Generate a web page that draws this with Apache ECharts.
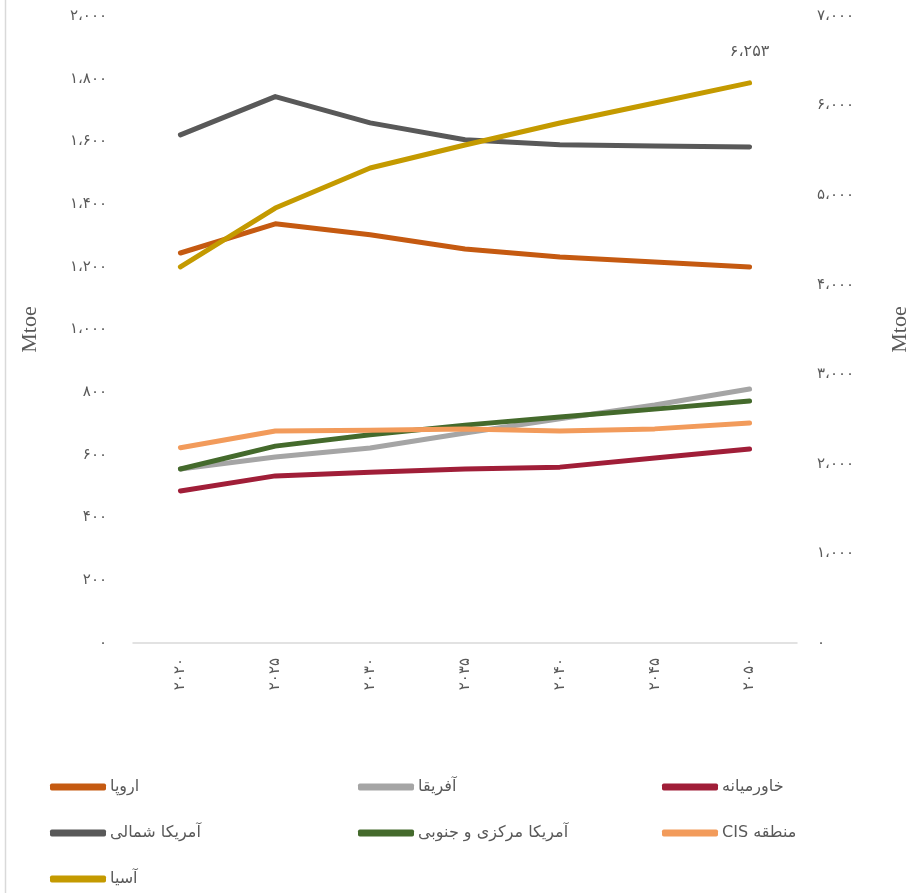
<!DOCTYPE html>
<html>
<head>
<meta charset="utf-8">
<script src="https://cdn.jsdelivr.net/npm/echarts@6/dist/echarts.min.js"></script>
<style>html,body{margin:0;padding:0;background:#fff}#c{width:919px;height:893px}</style>
</head>
<body>
<div id="c"></div>
<script>
const categories = ['۲۰۲۰','۲۰۲۵','۲۰۳۰','۲۰۳۵','۲۰۴۰','۲۰۴۵','۲۰۵۰'];
const europe = [1244, 1337, 1302, 1257, 1231, 1215, 1199];
const africa = [555, 593, 622, 670, 715, 759, 810];
const middleEast = [485, 533, 545, 555, 561, 590, 619];
const northAmerica = [1621, 1743, 1659, 1605, 1589, 1585, 1582];
const centralSouthAmerica = [555, 628, 664, 695, 721, 746, 772];
const cis = [623, 676, 679, 683, 676, 683, 702];
const asia = [4198, 4856, 5303, 5560, 5805, 6029, 6253];
const asiaLastLabel = '۶،۲۵۳';
const leftTickLabels = ['۰','۲۰۰','۴۰۰','۶۰۰','۸۰۰','۱،۰۰۰','۱،۲۰۰','۱،۴۰۰','۱،۶۰۰','۱،۸۰۰','۲،۰۰۰'];
const rightTickLabels = ['۰','۱،۰۰۰','۲،۰۰۰','۳،۰۰۰','۴،۰۰۰','۵،۰۰۰','۶،۰۰۰','۷،۰۰۰'];
const names = ['اروپا','آفریقا','خاورمیانه','آمریکا شمالی','آمریکا مرکزی و جنوبی','\u202Bمنطقه CIS\u202C','آسیا'];
const colors = ['#C55A11','#A5A5A5','#A01E38','#595959','#446A2C','#F29B5B','#C49A00'];

const chart = echarts.init(document.getElementById('c'), null, {renderer:'canvas'});
const txt = '#595959';
const fontFa = '"DejaVu Sans", "Noto Sans", sans-serif';
function mk(i, data, yIdx, extra) {
  return Object.assign({
    name: names[i], type: 'line', data: data, yAxisIndex: yIdx,
    symbol: 'none', smooth: false,
    lineStyle: {width: 5, color: colors[i], cap: 'round', join: 'round'},
    itemStyle: {color: colors[i]}, z: 2 + i
  }, extra || {});
}
const legendBase = {
  orient: 'vertical', itemWidth: 56, itemHeight: 7, itemGap: 26, padding: 0,
  icon: 'roundRect',
  textStyle: {color: txt, fontSize: 16, fontFamily: fontFa, lineHeight: 20, padding:[0,0,0,-1]}
};
chart.setOption({
  animation: false,
  backgroundColor: '#fff',
  grid: {left: 133, right: 119, top: 16, bottom: 250, containLabel: false},
  xAxis: {
    type: 'category', data: categories, boundaryGap: true,
    axisLine: {lineStyle: {color: '#D9D9D9', width: 1.5}},
    axisTick: {show: false},
    axisLabel: {rotate: 90, color: txt, fontSize: 15, fontFamily: fontFa, margin: 15}
  },
  yAxis: [
    {type: 'value', min: 0, max: 2000, interval: 200, splitLine: {show: false},
     axisLine: {show: false}, axisTick: {show: false},
     axisLabel: {color: txt, fontSize: 15, fontFamily: fontFa, margin: 26,
       formatter: v => leftTickLabels[Math.round(v / 200)]},
     name: 'Mtoe', nameLocation: 'middle', nameRotate: 90, nameGap: 92,
     nameTextStyle: {color: txt, fontSize: 22, fontFamily: '"Liberation Serif", serif'}},
    {type: 'value', min: 0, max: 7000, interval: 1000, splitLine: {show: false},
     axisLine: {show: false}, axisTick: {show: false},
     axisLabel: {color: txt, fontSize: 15, fontFamily: fontFa, margin: 20,
       formatter: v => rightTickLabels[Math.round(v / 1000)]},
     name: 'Mtoe', nameLocation: 'middle', nameRotate: 90, nameGap: 92,
     nameTextStyle: {color: txt, fontSize: 22, fontFamily: '"Liberation Serif", serif'}}
  ],
  legend: [
    Object.assign({}, legendBase, {left: 50, top: 777, data: [names[0], names[3], names[6]]}),
    Object.assign({}, legendBase, {left: 358, top: 777, data: [names[1], names[4]]}),
    Object.assign({}, legendBase, {left: 662, top: 777, data: [names[2], names[5]]})
  ],
  graphic: [{type: 'line', shape: {x1: 5.5, y1: 0, x2: 5.5, y2: 893}, style: {stroke: '#D9D9D9', lineWidth: 1.5}}],
  series: [
    mk(0, europe, 0),
    mk(1, africa, 0),
    mk(2, middleEast, 0),
    mk(3, northAmerica, 0),
    mk(4, centralSouthAmerica, 0),
    mk(5, cis, 0),
    mk(6, asia, 1, {
      symbol: 'circle', symbolSize: 2, showSymbol: true,
      label: {show: true, position: 'top', distance: 22, color: txt, fontSize: 16, fontFamily: fontFa,
        formatter: p => p.dataIndex === asia.length - 1 ? asiaLastLabel : ''}
    })
  ]
});
</script>
</body>
</html>
